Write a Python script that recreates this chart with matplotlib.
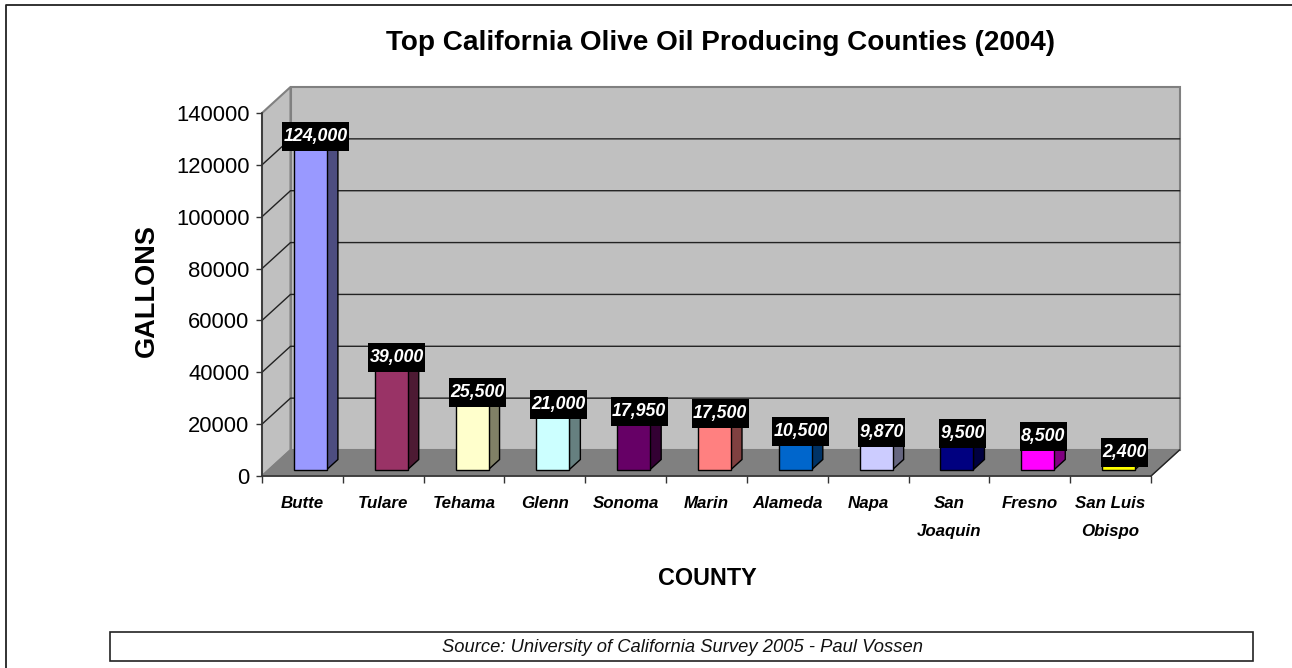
import matplotlib
matplotlib.use('Agg')
from matplotlib import pyplot as plt
from matplotlib.lines import Line2D
from matplotlib.patches import Polygon, Rectangle

plt.rcParams['font.family'] = ['Liberation Sans', 'DejaVu Sans']

counties = ['Butte', 'Tulare', 'Tehama', 'Glenn', 'Sonoma', 'Marin', 'Alameda', 'Napa',
            'San\nJoaquin', 'Fresno', 'San Luis\nObispo']
gallons = [124000, 39000, 25500, 21000, 17950, 17500, 10500, 9870, 9500, 8500, 2400]
bar_labels = ['124,000', '39,000', '25,500', '21,000', '17,950', '17,500', '10,500', '9,870',
              '9,500', '8,500', '2,400']
front_colors = ['#9999FF', '#993366', '#FFFFCC', '#CCFFFF', '#660066', '#FF8080', '#0066CC',
                '#CCCCFF', '#000080', '#FF00FF', '#FFFF00']
side_colors = ['#4D4D80', '#4D1A33', '#808066', '#668080', '#330033', '#804040', '#003366',
               '#666680', '#000040', '#800080', '#808000']
y_ticks = [0, 20000, 40000, 60000, 80000, 100000, 120000, 140000]

W, H = 1292, 668
fig = plt.figure(figsize=(W / 100, H / 100), dpi=100)

# front plane of the fake 3d box, in pixels: x 262-1151, y 113-476
ax = fig.add_axes([262 / W, 1 - 476 / H, 889 / W, 363 / H])
ax.set_xlim(0, 11)
ax.set_ylim(0, 140000)
ax.patch.set_visible(False)
px_x = 11 / 889
px_y = 140000 / 363

# depth of the box and of the bars
dx, dy = 28.5 * px_x, 26 * px_y
bar_x, bar_y = 8 * px_x, 6.5 * px_y
bar_w = 33 * px_x
side_x, side_y = 11 * px_x, 10 * px_y


def poly(pts, fc, ec, lw=1.0, z=1):
    ax.add_patch(Polygon(pts, closed=True, fc=fc, ec=ec, lw=lw, zorder=z, clip_on=False))


# walls and floor
poly([(dx, dy), (11 + dx, dy), (11 + dx, 140000 + dy), (dx, 140000 + dy)], '#C0C0C0', '#808080', 1.5)
poly([(0, 0), (dx, dy), (dx, 140000 + dy), (0, 140000)], '#C0C0C0', '#808080', 1.5)
poly([(0, 0), (11, 0), (11 + dx, dy), (dx, dy)], '#808080', '#808080', 1)

for v in y_ticks[1:-1]:
    ax.plot([0, dx, 11 + dx], [v, v + dy, v + dy], color='#222222', lw=1, zorder=2, clip_on=False)
ax.plot([11, 11 + dx], [0, dy], color='#222222', lw=1, zorder=2, clip_on=False)

for i, v in enumerate(gallons):
    x0 = i + 0.5 - bar_w / 2 + bar_x
    x1 = x0 + bar_w
    y0 = bar_y
    y1 = v + bar_y
    poly([(x1, y0), (x1 + side_x, y0 + side_y), (x1 + side_x, y1 + side_y), (x1, y1)], side_colors[i], 'black', 1, 3)
    poly([(x0, y1), (x1, y1), (x1 + side_x, y1 + side_y), (x0 + side_x, y1 + side_y)], side_colors[i], 'black', 1, 3)
    poly([(x0, y0), (x1, y0), (x1, y1), (x0, y1)], front_colors[i], 'black', 1, 4)

# black label boxes are wider for longer numbers
for i, v in enumerate(gallons):
    cx = i + 0.5 + bar_x + side_x / 2
    cy = v + 17.5 * px_y
    bw = (10 * len(bar_labels[i]) - 3) * px_x
    bh = 29 * px_y
    ax.add_patch(Rectangle((cx - bw / 2, cy - bh / 2), bw, bh, fc='black', ec='none', zorder=6, clip_on=False))
    ax.text(cx, cy, bar_labels[i], ha='center', va='center', color='white', fontsize=12.8,
            fontweight='bold', fontstyle='italic', zorder=7, clip_on=False)

for s in ['top', 'right']:
    ax.spines[s].set_visible(False)
for s in ['left', 'bottom']:
    ax.spines[s].set_color('#333333')
    ax.spines[s].set_linewidth(1.2)
    ax.spines[s].set_zorder(5)

ax.set_yticks(y_ticks)
ax.set_yticklabels([str(v) for v in y_ticks], fontsize=15.8, color='black')
ax.tick_params(axis='y', length=4, width=1, color='#333333', pad=5)

ax.set_xticks(range(12))
ax.set_xticklabels([])
ax.tick_params(axis='x', which='major', length=5, width=1, color='#333333')
ax.set_xticks([i + 0.5 for i in range(11)], minor=True)
ax.set_xticklabels(counties, minor=True, fontsize=12.2, fontweight='bold', fontstyle='italic',
                   linespacing=2.05, color='black')
ax.tick_params(axis='x', which='minor', length=0, pad=14.5)

fig.text(721 / W, 1 - 50 / H, 'Top California Olive Oil Producing Counties (2004)', ha='center', va='baseline',
         fontsize=20.1, fontweight='bold', color='black')
fig.text(146.5 / W, 1 - 291 / H, 'GALLONS', rotation=90, ha='center', va='center', fontsize=19.5,
         fontweight='bold', color='black')
fig.text(707.5 / W, 1 - 585 / H, 'COUNTY', ha='center', va='baseline', fontsize=16.8, fontweight='bold', color='black')

# chart border shows only on the top and left, source box at the bottom
fig.add_artist(Line2D([6 / W, 6 / W, 1], [0, 1 - 5 / H, 1 - 5 / H], transform=fig.transFigure, color='#222222', lw=1.3))
fig.add_artist(Rectangle((110 / W, 1 - 661 / H), 1143 / W, 29 / H, transform=fig.transFigure, fc='white',
                         ec='#222222', lw=1.2))
fig.text(683 / W, 1 - 647 / H, 'Source: University of California Survey 2005 - Paul Vossen', ha='center',
         va='center', fontsize=13.2, fontstyle='italic', color='#111111')

fig.savefig('out.png', dpi=100)
